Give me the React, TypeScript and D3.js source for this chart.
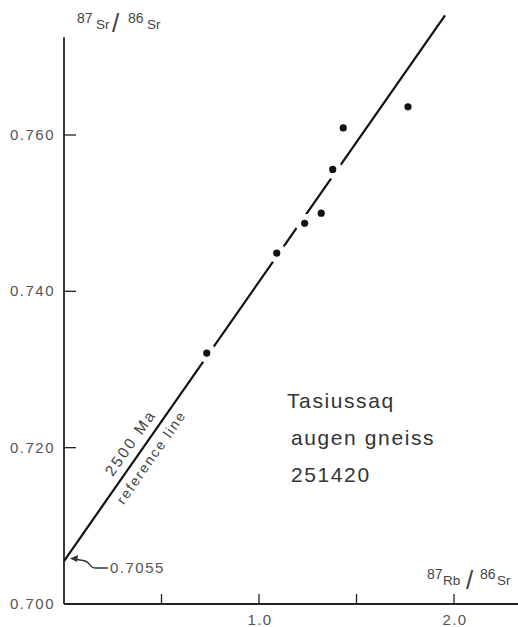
import * as d3 from 'd3';

// Rb-Sr isochron data, Tasiussaq augen gneiss 251420
const rbSr = [0.732, 1.091, 1.234, 1.319, 1.378, 1.432, 1.764];
const srSr = [0.7321, 0.7449, 0.7487, 0.75, 0.7556, 0.7609, 0.7636];

// 2500 Ma reference line, from initial ratio 0.7055
const refX = [0, 1.954];
const refY = [0.7055, 0.7753];

const xTicks = [0.5, 1.0, 1.5, 2.0];
const xTickLabels = ['', '1.0', '', '2.0'];
const yTicks = [0.7, 0.72, 0.74, 0.76];
const yTickLabels = ['0.700', '0.720', '0.740', '0.760'];

const width = 518;
const height = 627;
const font = '"Liberation Sans", Arial, sans-serif';

const App = () => {
    const x = d3.scaleLinear().domain([0, 2]).range([64, 454]);
    const y = d3.scaleLinear().domain([0.7, 0.76]).range([604, 135]);
    const yTop = 0.7725;

    const p0: [number, number] = [x(refX[0]), y(refY[0])];
    const p1: [number, number] = [x(refX[1]), y(refY[1])];
    const line = d3.line<[number, number]>()([p0, p1]) || '';
    const dx = p1[0] - p0[0];
    const dy = p1[1] - p0[1];
    const len = Math.hypot(dx, dy);
    const ux = dx / len;
    const uy = dy / len;
    const angle = (Math.atan2(dy, dx) * 180) / Math.PI;

    // points on the line break it (white halo)
    const pts = rbSr.map((v, i) => [x(v), y(srSr[i])] as [number, number]);
    const onLine = pts.filter(([px, py]) => {
        const d = Math.abs((px - p0[0]) * uy - (py - p0[1]) * ux);
        return d < 8;
    });

    const lblPos: [number, number] = [p0[0] + ux * 135, p0[1] + uy * 135];
    const A = p0;

    return (
        <svg width={width} height={height} style={{ position: 'absolute', left: 0, top: 0, background: '#fff' }}>
            {/* axes */}
            <line x1={x(0)} x2={x(0)} y1={y(yTop)} y2={y(0.7)} stroke="#222" strokeWidth={1.8} />
            <line x1={x(0)} x2={width} y1={y(0.7)} y2={y(0.7)} stroke="#222" strokeWidth={1.8} />

            {xTicks.map((t, i) => (
                <g key={'xt' + i}>
                    <line x1={x(t)} x2={x(t)} y1={y(0.7)} y2={y(0.7) - 10} stroke="#222" strokeWidth={1.3} />
                    {xTickLabels[i] && (
                        <text x={x(t) + 1} y={y(0.7) + 21} textAnchor="middle" fontFamily={font} fontSize={15} letterSpacing={1.3} fill="#555">
                            {xTickLabels[i]}
                        </text>
                    )}
                </g>
            ))}

            {yTicks.map((t, i) => (
                <g key={'yt' + i}>
                    {i > 0 && <line x1={x(0)} x2={x(0) + 12} y1={y(t)} y2={y(t)} stroke="#222" strokeWidth={1.3} />}
                    <text x={55} y={y(t) + 5} textAnchor="end" fontFamily={font} fontSize={15} letterSpacing={1.5} fill="#555">
                        {yTickLabels[i]}
                    </text>
                </g>
            ))}

            {/* axis titles */}
            <g fontFamily={font} fill="#444">
                <text x={77} y={23} fontSize={14}>87</text>
                <text x={96} y={29} fontSize={13.5}>Sr</text>
                <text x={112} y={32} fontSize={26} fontWeight={300}>/</text>
                <text x={128} y={23} fontSize={14}>86</text>
                <text x={147} y={29} fontSize={13.5}>Sr</text>

                <text x={427} y={579} fontSize={14}>87</text>
                <text x={443} y={585} fontSize={13.5}>Rb</text>
                <text x={466} y={589} fontSize={26} fontWeight={300}>/</text>
                <text x={480} y={579} fontSize={14}>86</text>
                <text x={497} y={585} fontSize={13.5}>Sr</text>
            </g>

            {/* reference line */}
            <path d={line} stroke="#111" strokeWidth={2.2} fill="none" />
            {onLine.map(([px, py], i) => (
                <circle key={'h' + i} cx={px} cy={py} r={9.5} fill="#fff" />
            ))}
            {pts.map(([px, py], i) => (
                <circle key={'p' + i} cx={px} cy={py} r={3.6} fill="#111" />
            ))}

            <g transform={`translate(${lblPos[0]},${lblPos[1]}) rotate(${angle})`} fontFamily={font} fill="#444" textAnchor="middle">
                <text x={0} y={-8} fontSize={15.5} letterSpacing={2.4}>2500 Ma</text>
                <text x={0} y={17} fontSize={14} letterSpacing={1.8}>reference line</text>
            </g>

            {/* initial ratio annotation */}
            <path
                d={`M${A[0] + 44},${A[1] + 7} H${A[0] + 32} C${A[0] + 24},${A[1] + 7} ${A[0] + 28},${A[1] + 1} ${A[0] + 19},${A[1] - 0.5} L${A[0] + 10},${A[1] - 2}`}
                stroke="#333"
                strokeWidth={1.3}
                fill="none"
            />
            <path d={`M${A[0] + 6},${A[1] - 2.5} L${A[0] + 14},${A[1] - 6} L${A[0] + 13},${A[1] + 1} Z`} fill="#333" />
            <text x={A[0] + 46} y={A[1] + 12} fontFamily={font} fontSize={15} letterSpacing={1.5} fill="#555">0.7055</text>

            {/* sample label */}
            <g fontFamily={font} fontSize={21} letterSpacing={1.6} fill="#333">
                <text x={287} y={408}>Tasiussaq</text>
                <text x={291} y={445}>augen gneiss</text>
                <text x={291} y={482}>251420</text>
            </g>
        </svg>
    );
};

export default App;
